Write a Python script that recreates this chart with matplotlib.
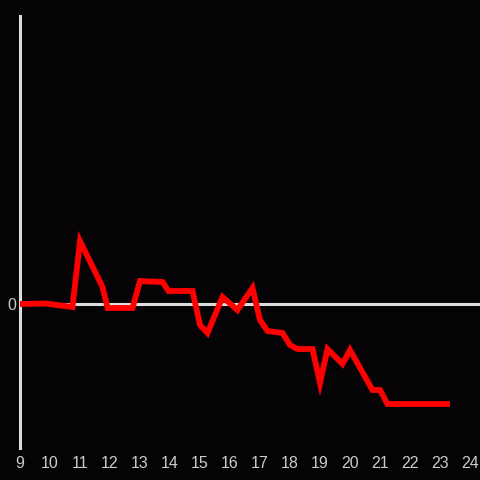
import matplotlib
matplotlib.use("Agg")
import matplotlib.pyplot as plt

# hours of the day and values
hours = [9.0, 9.85, 10.75, 11.0, 11.75, 11.92, 12.75, 13.0, 13.75, 13.95,
         14.75, 15.0, 15.25, 15.75, 16.25, 16.75, 17.0, 17.25, 17.75, 18.0,
         18.25, 18.75, 19.0, 19.25, 19.75, 20.0, 20.75, 21.0, 21.25, 23.33]
values = [0.0, 0.05, -0.3, 6.3, 1.7, -0.4, -0.4, 2.3, 2.2, 1.3,
          1.3, -2.1, -2.9, 0.7, -0.6, 1.6, -1.6, -2.7, -2.9, -4.1,
          -4.5, -4.5, -7.9, -4.5, -6.0, -4.6, -8.6, -8.6, -10.0, -10.0]
xticks = list(range(9, 25))

BG = "#050306"
FG = "#dcdcdc"

plt.rcParams['font.family'] = ['Liberation Sans', 'DejaVu Sans']

fig = plt.figure(figsize=(4.8, 4.8), dpi=100, facecolor=BG)
ax = fig.add_axes([20 / 480, 32 / 480, 460 / 480, 432 / 480], facecolor=BG)

ax.axhline(0, color=FG, linewidth=2.2, zorder=1)
ax.plot(hours, values, color="#ff0000", linewidth=4.2, zorder=3,
        solid_joinstyle="miter", solid_capstyle="butt")

ax.set_xlim(9, 9 + 460 / 30)
ax.set_ylim(-14.4, 28.8)
ax.set_xticks(xticks)
ax.set_xticklabels([str(t) for t in xticks])
ax.set_yticks([0])
ax.set_yticklabels(["0"])
ax.tick_params(length=0, colors="#cccccc", labelsize=11.5)
ax.tick_params(axis="x", pad=6)
ax.tick_params(axis="y", pad=3)

for side in ["top", "right", "bottom"]:
    ax.spines[side].set_visible(False)
ax.spines["left"].set_color(FG)
ax.spines["left"].set_linewidth(2.2)

fig.savefig("out.png", dpi=100, facecolor=BG)
